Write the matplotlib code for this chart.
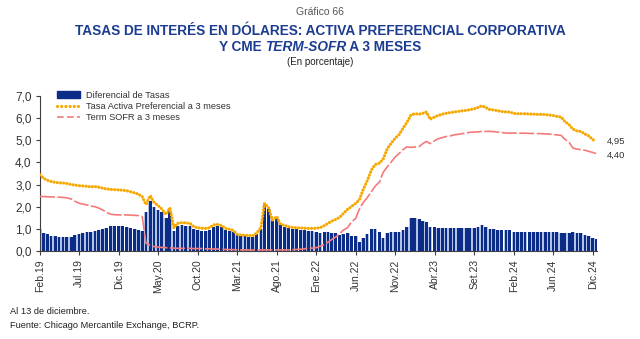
import numpy as np
import pandas as pd
import matplotlib
matplotlib.use('Agg')
import matplotlib.pyplot as plt
import matplotlib.dates as mdates
from matplotlib.lines import Line2D
from matplotlib.patches import Patch

plt.rcParams['font.family'] = ['Liberation Sans', 'DejaVu Sans']

# datos quincenales (1 y 15 de cada mes), ultimo dato al 13 de diciembre de 2024
fechas = list(pd.date_range('2019-02-01', '2024-12-01', freq='SMS')) + [pd.Timestamp('2024-12-13')]

# Tasa activa preferencial corporativa a 3 meses (%)
tasa_2019 = [3.44, 3.28, 3.20, 3.14, 3.10, 3.08, 3.07, 3.05, 3.00, 2.98, 2.95,
             2.94, 2.92, 2.90, 2.91, 2.88, 2.84, 2.80, 2.78, 2.77, 2.76, 2.75]
tasa_2020 = [2.72, 2.68, 2.62, 2.57, 2.45, 2.10, 2.50, 2.20, 2.05, 1.90, 1.65, 1.95,
             1.05, 1.25, 1.28, 1.27, 1.25, 1.10, 1.05, 1.03, 1.02, 1.05, 1.18, 1.20]
tasa_2021 = [1.15, 1.02, 0.98, 0.93, 0.76, 0.72, 0.71, 0.70, 0.69, 0.80, 1.05, 2.15,
             1.95, 1.40, 1.55, 1.22, 1.15, 1.10, 1.06, 1.05, 1.04, 1.03, 1.02, 1.02]
tasa_2022 = [1.03, 1.05, 1.15, 1.25, 1.35, 1.42, 1.52, 1.70, 1.88, 2.00, 2.15, 2.30,
             2.80, 3.15, 3.66, 3.90, 3.97, 4.15, 4.62, 4.85, 5.10, 5.25, 5.55, 5.80]
tasa_2023 = [6.15, 6.20, 6.18, 6.22, 6.28, 5.95, 6.05, 6.12, 6.18, 6.22, 6.25, 6.28,
             6.30, 6.33, 6.35, 6.38, 6.42, 6.48, 6.56, 6.48, 6.38, 6.37, 6.33, 6.30]
tasa_2024 = [6.28, 6.28, 6.21, 6.20, 6.20, 6.20, 6.19, 6.18, 6.17, 6.17, 6.16, 6.14,
             6.12, 6.08, 6.05, 5.85, 5.70, 5.50, 5.42, 5.40, 5.28, 5.20, 5.03, 4.95]

# CME Term SOFR a 3 meses (%)
sofr_2019 = [2.46, 2.46, 2.45, 2.44, 2.44, 2.43, 2.42, 2.40, 2.35, 2.25, 2.16,
             2.12, 2.08, 2.03, 2.00, 1.94, 1.85, 1.74, 1.66, 1.64, 1.63, 1.63]
sofr_2020 = [1.63, 1.62, 1.61, 1.60, 1.55, 0.35, 0.25, 0.20, 0.18, 0.16, 0.15, 0.14,
             0.13, 0.12, 0.12, 0.12, 0.12, 0.11, 0.11, 0.11, 0.10, 0.10, 0.09, 0.09]
sofr_2021 = [0.08, 0.07, 0.06, 0.06, 0.05, 0.05, 0.05, 0.05, 0.04, 0.04, 0.05, 0.05,
             0.05, 0.05, 0.05, 0.05, 0.05, 0.05, 0.06, 0.07, 0.08, 0.10, 0.12, 0.13]
sofr_2022 = [0.15, 0.22, 0.30, 0.40, 0.52, 0.62, 0.78, 0.95, 1.05, 1.30, 1.47, 1.88,
             2.20, 2.40, 2.68, 2.92, 3.12, 3.55, 3.80, 4.00, 4.25, 4.40, 4.58, 4.70]
sofr_2023 = [4.68, 4.70, 4.72, 4.85, 4.95, 4.85, 4.98, 5.07, 5.12, 5.17, 5.20, 5.24,
             5.27, 5.30, 5.33, 5.36, 5.37, 5.38, 5.40, 5.40, 5.40, 5.39, 5.37, 5.35]
sofr_2024 = [5.33, 5.32, 5.33, 5.32, 5.32, 5.32, 5.31, 5.31, 5.30, 5.30, 5.29, 5.28,
             5.26, 5.24, 5.22, 5.05, 4.90, 4.65, 4.60, 4.58, 4.55, 4.50, 4.45, 4.40]

tick_fechas = pd.date_range('2019-02-01', periods=15, freq='5MS')
tick_labels = ['Feb.19', 'Jul.19', 'Dic.19', 'May.20', 'Oct.20', 'Mar.21', 'Ago.21', 'Ene.22',
               'Jun.22', 'Nov.22', 'Abr.23', 'Set.23', 'Feb.24', 'Jun.24', 'Dic.24']

tasa = np.array(tasa_2019 + tasa_2020 + tasa_2021 + tasa_2022 + tasa_2023 + tasa_2024)
sofr = np.array(sofr_2019 + sofr_2020 + sofr_2021 + sofr_2022 + sofr_2023 + sofr_2024)
dif = tasa - sofr
x = mdates.date2num(fechas)

azul = '#0b2d87'
celeste = '#b3c3e6'
naranja = '#f6a800'
rosa = '#f47a7a'
gris = '#333333'
punteado = (0, (0.01, 1.0))

fig = plt.figure(figsize=(6.4, 3.39), dpi=100)
ax = fig.add_axes([40/640, 1 - 251/339, 557/640, 155/339])

# barras del diferencial (fondo claro + barra oscura)
ax.bar(x, dif, width=15, color=celeste, linewidth=0, zorder=1)
ax.bar(x, dif, width=10.5, color=azul, linewidth=0, zorder=2)
ax.plot(x, sofr, color=rosa, lw=1.2, ls=(0, (9, 1.5)), zorder=3)
ax.plot(x, tasa, color=naranja, lw=2.3, ls=punteado, dash_capstyle='round', zorder=4)

# etiquetas del ultimo dato
ax.annotate(f"{tasa[-1]:.2f}".replace('.', ','), xy=(x[-1], tasa[-1]), xytext=(8, 0),
            textcoords='offset points', va='center', ha='left', fontsize=6.8, color=gris,
            annotation_clip=False)
ax.annotate(f"{sofr[-1]:.2f}".replace('.', ','), xy=(x[-1], sofr[-1]), xytext=(8, -1.5),
            textcoords='offset points', va='center', ha='left', fontsize=6.8, color=gris,
            annotation_clip=False)

ax.set_ylim(0, 7)
ax.set_yticks(range(0, 8))
ax.set_yticklabels([f"{v:.1f}".replace('.', ',') for v in range(0, 8)])
ax.set_xlim(mdates.date2num(pd.Timestamp('2019-02-01')), mdates.date2num(pd.Timestamp('2024-12-17')))
ax.set_xticks(mdates.date2num(tick_fechas))
ax.set_xticklabels(tick_labels, rotation=90)

for s in ['top', 'right']:
    ax.spines[s].set_visible(False)
for s in ['left', 'bottom']:
    ax.spines[s].set_color('#404040')
    ax.spines[s].set_linewidth(0.8)
ax.tick_params(axis='y', direction='out', length=3, width=0.8, color='#404040',
               labelsize=8.5, labelcolor=gris, pad=3)
ax.tick_params(axis='x', direction='out', length=3, width=0.8, color='#404040',
               labelsize=7.5, labelcolor=gris, pad=3)

handles = [Patch(color=azul),
           Line2D([], [], color=naranja, lw=2.3, ls=(0, (0.01, 1.3)), dash_capstyle='round'),
           Line2D([], [], color=rosa, lw=1.2, ls=(0, (4, 2)))]
labels = ['Diferencial de Tasas', 'Tasa Activa Preferencial a 3 meses', 'Term SOFR a 3 meses']
ax.legend(handles, labels, loc='upper left', bbox_to_anchor=(0.03, 1.035), frameon=False,
          fontsize=6.7, handlelength=2.5, handletextpad=0.6, labelspacing=0.25,
          borderaxespad=0, borderpad=0, labelcolor=gris)

# titulos
fig.text(0.5, 1 - 12/339, 'Gráfico 66', ha='center', va='center', fontsize=7.5, color='#555555')
titulo = dict(ha='center', va='center', fontsize=9.8, fontweight='bold', color='#1c3c91')
fig.text(0.5, 1 - 31/339, 'TASAS DE INTERÉS EN DÓLARES: ACTIVA PREFERENCIAL CORPORATIVA', **titulo)

# segunda linea con el tramo en cursiva
partes = [('Y CME ', 'normal'), ('TERM-SOFR', 'italic'), (' A 3 MESES', 'normal')]
fig.canvas.draw()
r = fig.canvas.get_renderer()
textos = []
for txt, estilo in partes:
    kw = dict(titulo)
    kw['ha'] = 'left'
    t = fig.text(0, 1 - 47/339, txt, style=estilo, **kw)
    textos.append(t)
anchos = [t.get_window_extent(r).width for t in textos]
x0 = (640 - sum(anchos)) / 2
for t, w in zip(textos, anchos):
    t.set_x(x0 / 640)
    x0 += w

fig.text(0.5, 1 - 62/339, '(En porcentaje)', ha='center', va='center', fontsize=7, color='#222222')

fig.text(10/640, 1 - 312/339, 'Al 13 de diciembre.', ha='left', va='center', fontsize=6.7, color='#222222')
fig.text(10/640, 1 - 325/339, 'Fuente: Chicago Mercantile Exchange, BCRP.', ha='left', va='center',
         fontsize=6.7, color='#222222')

fig.savefig('out.png', dpi=100)
